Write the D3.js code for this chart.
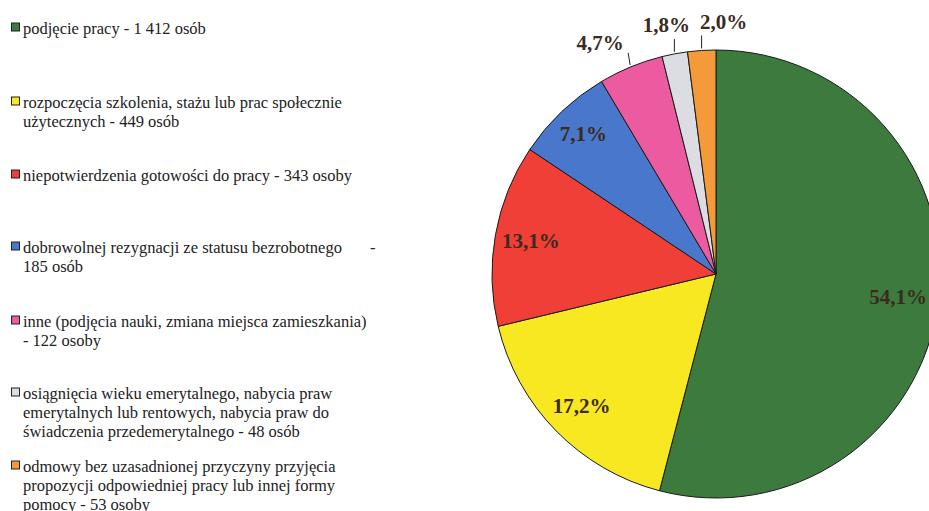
<!DOCTYPE html>
<html>
<head>
<meta charset="utf-8">
<script src="https://cdn.jsdelivr.net/npm/d3@7/dist/d3.min.js"></script>
</head>
<body style="margin:0; background:#fff">
<div id="chart"></div>
<script>
// dane
var labels = [
  ["podjęcie pracy - 1 412 osób"],
  ["rozpoczęcia szkolenia, stażu lub prac społecznie", "użytecznych - 449 osób"],
  ["niepotwierdzenia gotowości do pracy - 343 osoby"],
  ["dobrowolnej rezygnacji ze statusu bezrobotnego", "185 osób"],
  ["inne (podjęcia nauki, zmiana miejsca zamieszkania)", "- 122 osoby"],
  ["osiągnięcia wieku emerytalnego, nabycia praw", "emerytalnych lub rentowych, nabycia praw do", "świadczenia przedemerytalnego - 48 osób"],
  ["odmowy bez uzasadnionej przyczyny przyjęcia", "propozycji odpowiedniej pracy lub innej formy", "pomocy - 53 osoby"]
]
var values = [1412, 449, 343, 185, 122, 48, 53]
var pctLabels = ["54,1%", "17,2%", "13,1%", "7,1%", "4,7%", "1,8%", "2,0%"]
var colors = ["#3c7b3d", "#f7e821", "#ef3f37", "#4877cb", "#ec5aa0", "#dcdce3", "#f59a3b"]

var W = 929, H = 511
var svg = d3.select("#chart").append("svg")
  .attr("width", W).attr("height", H)
  .style("font-family", "Times New Roman")

// legenda
var legendY = [34, 108, 181, 253, 327, 399, 472]

labels.forEach(function(lines, i){
  svg.append("rect")
    .attr("x", 11.5).attr("y", legendY[i] - 11)
    .attr("width", 8).attr("height", 8)
    .attr("fill", colors[i])
    .attr("stroke", "#222").attr("stroke-width", 1)
  lines.forEach(function(t, j){
    svg.append("text")
      .attr("x", 23).attr("y", legendY[i] + j * 19)
      .style("font-family", "Times New Roman")
      .style("font-size", "16.5px")
      .attr("fill", "#222")
      .text(t)
  })
})
svg.append("text").attr("x", 370).attr("y", legendY[3])
  .style("font-family", "Times New Roman").style("font-size", "16.5px")
  .attr("fill", "#222").text("-")

// wykres kołowy
var cx = 716, cy = 274, r = 224
var pie = d3.pie().sort(null).value(function(d){ return d })
var arcs = pie(values)
var arc = d3.arc().innerRadius(0).outerRadius(r)

var pg = svg.append("g").attr("transform", "translate(" + cx + "," + cy + ")")

pg.selectAll("path")
  .data(arcs)
  .enter()
  .append("path")
  .attr("d", arc)
  .attr("fill", function(d, i){ return colors[i] })
  .attr("stroke", "#1a1a1a")
  .attr("stroke-width", 1)

// etykiety
var inR = [0.82, 0.84, 0.84, 0.86]

function pctText(x, y, t){
  pg.append("text")
    .attr("x", x).attr("y", y)
    .attr("text-anchor", "middle")
    .attr("fill", "#3a2b1e")
    .style("font-family", "Times New Roman")
    .style("font-size", "21px")
    .style("font-weight", "bold")
    .text(t)
}

arcs.forEach(function(d, i){
  var a = (d.startAngle + d.endAngle) / 2
  if (i < 4) {
    var rr = r * inR[i]
    pctText(Math.sin(a) * rr, -Math.cos(a) * rr + 7, pctLabels[i])
  } else {
    var x1 = Math.sin(a) * (r + 2), y1 = -Math.cos(a) * (r + 2)
    var y2 = -Math.cos(a) * (r + 15)
    pg.append("line")
      .attr("x1", x1).attr("y1", y1)
      .attr("x2", x1 - (i == 4 ? 2 : 0)).attr("y2", y2)
      .attr("stroke", "#222").attr("stroke-width", 1)
    var dx = [0, 0, 0, 0, -30, -8, 22][i]
    var dy = [0, 0, 0, 0, -3, -7, -7][i]
    pctText(x1 + dx, y2 + dy, pctLabels[i])
  }
})
</script>
</body>
</html>
